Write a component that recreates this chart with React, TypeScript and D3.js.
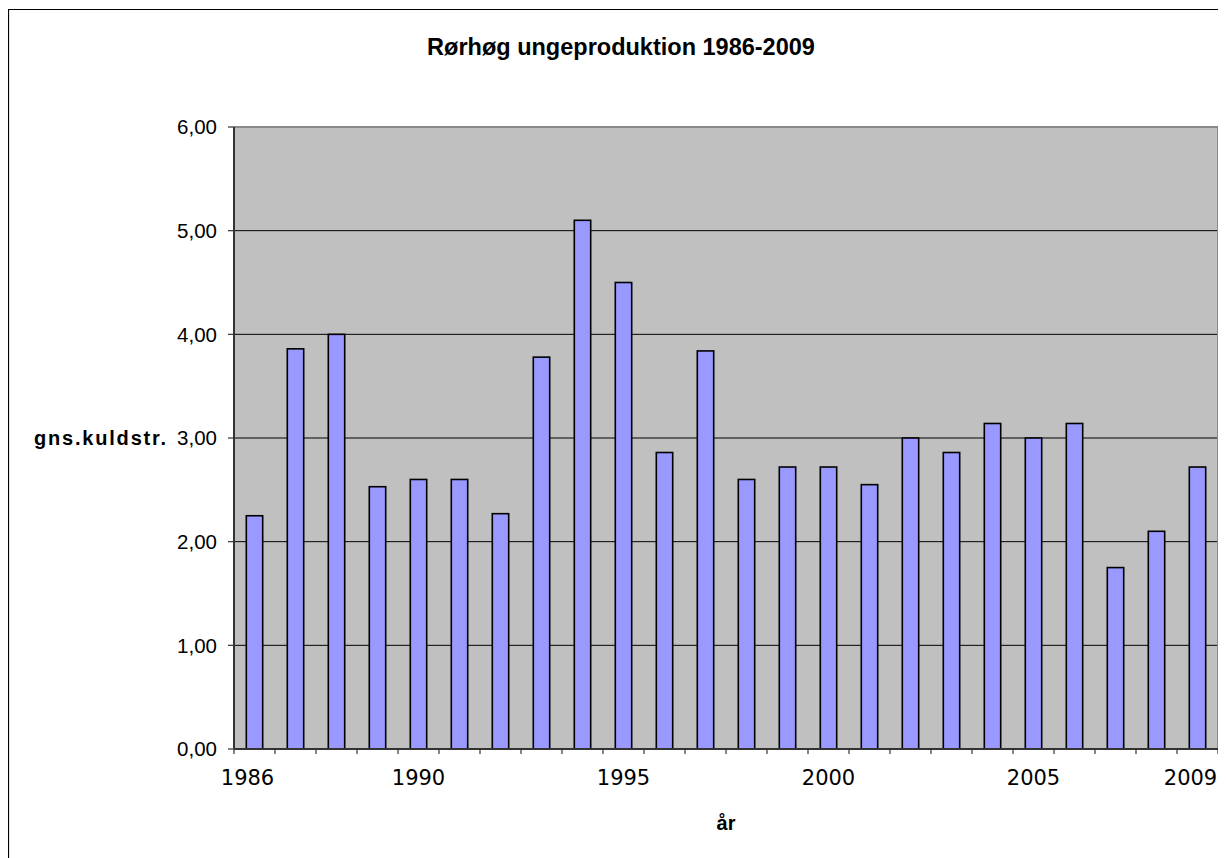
import { useEffect, useRef } from "react";
import * as d3 from "d3";

// Average brood size per year
const years = [
  "1986", "1987", "1988", "1989", "1990", "1991", "1992", "1993", "1994", "1995", "1996", "1997",
  "1998", "1999", "2000", "2001", "2002", "2003", "2004", "2005", "2006", "2007", "2008", "2009",
];
const broodSize = [
  2.25, 3.86, 4.0, 2.53, 2.6, 2.6, 2.27, 3.78, 5.1, 4.5, 2.86, 3.84,
  2.6, 2.72, 2.72, 2.55, 3.0, 2.86, 3.14, 3.0, 3.14, 1.75, 2.1, 2.72,
];
const shownYears = ["1986", "1990", "1995", "2000", "2005", "2009"];
const yTicks = [0, 1, 2, 3, 4, 5, 6];

const title = "Rørhøg ungeproduktion 1986-2009";
const yTitle = "gns.kuldstr.";
const xTitle = "år";

const App = () => {
  const svgRef = useRef<SVGSVGElement | null>(null);

  useEffect(() => {
    const width = 1218;
    const height = 850;
    const plot = { left: 226, right: 1210, top: 119, bottom: 741 };

    const svg = d3.select(svgRef.current).attr("width", width).attr("height", height);
    svg.selectAll("*").remove();

    const sans = "'Liberation Sans', Arial, sans-serif";
    const verdana = "'DejaVu Sans', Verdana, sans-serif";

    // outer chart frame (only left/top visible in the crop)
    svg
      .append("path")
      .attr("d", `M0.5,${height} V1.5 H${width}`)
      .attr("fill", "none")
      .attr("stroke", "#000")
      .attr("stroke-width", 1.2);

    const rows = years.map((y, i) => ({ year: y, value: broodSize[i] }));

    const x = d3
      .scaleBand()
      .domain(years)
      .range([plot.left, plot.right])
      .paddingInner(0.6)
      .paddingOuter(0.3);

    const y = d3.scaleLinear().domain([0, 6]).range([plot.bottom, plot.top]);

    // plot background
    svg
      .append("rect")
      .attr("x", plot.left)
      .attr("y", plot.top)
      .attr("width", plot.right - plot.left)
      .attr("height", plot.bottom - plot.top)
      .attr("fill", "#c0c0c0");

    // gridlines
    svg
      .append("g")
      .selectAll("line")
      .data(yTicks.filter((t) => t > 0 && t < 6))
      .join("line")
      .attr("x1", plot.left)
      .attr("x2", plot.right)
      .attr("y1", (d) => y(d))
      .attr("y2", (d) => y(d))
      .attr("stroke", "#000")
      .attr("stroke-width", 1);

    // plot border top/right
    svg
      .append("path")
      .attr("d", `M${plot.left},${plot.top} H${plot.right} V${plot.bottom}`)
      .attr("fill", "none")
      .attr("stroke", "#8a8a8a")
      .attr("stroke-width", 2);

    // bars
    svg
      .append("g")
      .selectAll("rect")
      .data(rows)
      .join("rect")
      .attr("x", (d) => x(d.year) || 0)
      .attr("y", (d) => y(d.value))
      .attr("width", x.bandwidth())
      .attr("height", (d) => y(0) - y(d.value))
      .attr("fill", "#9999ff")
      .attr("stroke", "#000")
      .attr("stroke-width", 1.6);

    // y axis
    const yAxis = svg.append("g");
    yAxis
      .append("line")
      .attr("x1", plot.left)
      .attr("x2", plot.left)
      .attr("y1", plot.top)
      .attr("y2", plot.bottom)
      .attr("stroke", "#333")
      .attr("stroke-width", 2);
    yAxis
      .selectAll("line.tick")
      .data(yTicks)
      .join("line")
      .attr("class", "tick")
      .attr("x1", plot.left - 6)
      .attr("x2", plot.left)
      .attr("y1", (d) => y(d))
      .attr("y2", (d) => y(d))
      .attr("stroke", "#333")
      .attr("stroke-width", 1.2);
    yAxis
      .selectAll("text")
      .data(yTicks)
      .join("text")
      .attr("x", 209)
      .attr("y", (d) => y(d))
      .attr("dy", "0.35em")
      .attr("text-anchor", "end")
      .attr("font-family", sans)
      .attr("font-size", 20.5)
      .attr("fill", "#000")
      .text((d) => d3.format(".2f")(d).replace(".", ","));

    // x axis
    const xAxis = svg.append("g");
    xAxis
      .append("line")
      .attr("x1", plot.left)
      .attr("x2", plot.right)
      .attr("y1", plot.bottom)
      .attr("y2", plot.bottom)
      .attr("stroke", "#333")
      .attr("stroke-width", 2);
    const bounds = d3.range(years.length + 1).map((i) => plot.left + i * x.step());
    xAxis
      .selectAll("line.tick")
      .data(bounds)
      .join("line")
      .attr("class", "tick")
      .attr("x1", (d) => d)
      .attr("x2", (d) => d)
      .attr("y1", plot.bottom)
      .attr("y2", plot.bottom + 5)
      .attr("stroke", "#333")
      .attr("stroke-width", 1.2);
    xAxis
      .selectAll("text")
      .data(shownYears)
      .join("text")
      .attr("x", (d) => (x(d) || 0) + x.bandwidth() / 2 + (d === "2009" || d === "1986" ? -7 : 0))
      .attr("y", 777)
      .attr("text-anchor", "middle")
      .attr("font-family", verdana)
      .attr("font-size", 21)
      .attr("fill", "#000")
      .text((d) => d);

    // titles
    svg
      .append("text")
      .attr("x", 613)
      .attr("y", 47)
      .attr("text-anchor", "middle")
      .attr("font-family", sans)
      .attr("font-weight", "bold")
      .attr("font-size", 23.5)
      .text(title);

    svg
      .append("text")
      .attr("x", 26)
      .attr("y", y(3))
      .attr("dy", "0.35em")
      .attr("font-family", sans)
      .attr("font-weight", "bold")
      .attr("font-size", 20)
      .attr("letter-spacing", 1.8)
      .text(yTitle);

    svg
      .append("text")
      .attr("x", 718)
      .attr("y", 822)
      .attr("text-anchor", "middle")
      .attr("font-family", sans)
      .attr("font-weight", "bold")
      .attr("font-size", 20)
      .text(xTitle);
  }, []);

  return <svg ref={svgRef} style={{ display: "block" }} />;
};

export default App;
